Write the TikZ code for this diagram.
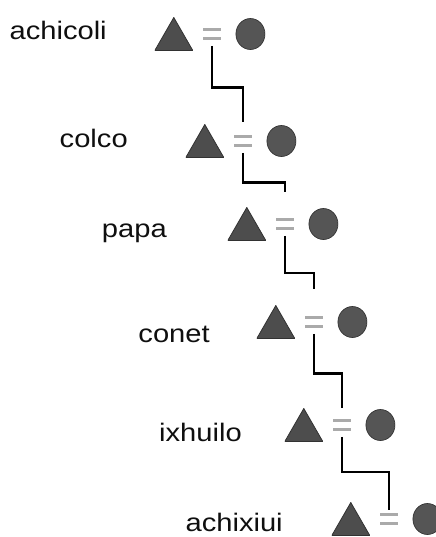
\documentclass[tikz,border=0pt]{standalone}
\usepackage{fontspec}
\usepackage{tikz}
\usetikzlibrary{shapes.geometric,positioning,calc}
\newfontfamily\kinfont[FakeStretch=1.15]{Liberation Sans}
\definecolor{kindark}{RGB}{77,77,77}
\definecolor{kinedge}{RGB}{50,50,50}
\definecolor{kinround}{RGB}{85,85,85}
\definecolor{kineq}{RGB}{170,170,170}
\definecolor{kintext}{RGB}{15,15,15}

\begin{document}
\begin{tikzpicture}[
    x=0.75pt, y=-0.75pt,
    node distance=7pt,
    kinname/.style={anchor=base east, inner sep=0pt, text=kintext, font=\kinfont\fontsize{19}{22}\selectfont},
    male/.style={minimum width=28.5pt, minimum height=24.75pt, inner sep=0pt, path picture={\filldraw[draw=kinedge, fill=kindark, line width=0.6pt] (path picture bounding box.south west) -- (path picture bounding box.south east) -- (path picture bounding box.north) -- cycle;}},
    female/.style={ellipse, draw=kinedge, fill=kinround, line width=0.5pt, minimum width=21.75pt, minimum height=23.25pt, inner sep=0pt},
    marriage/.style={minimum width=14pt, minimum height=9.5pt, inner sep=0pt, path picture={\fill[kineq] (path picture bounding box.north west) rectangle ([yshift=-2.7pt]path picture bounding box.north east); \fill[kineq] (path picture bounding box.south west) rectangle ([yshift=2.7pt]path picture bounding box.south east);}},
    descent/.style={line width=1.7pt, shorten <=4pt}
]
    \useasboundingbox (0,0) rectangle (436,537);

    % couples
    \node[marriage] (achicoliEq) at (212,34) {};
    \node[male, left=of achicoliEq] (achicoliTri) {};
    \node[female, right=10.5pt of achicoliEq] (achicoliCirc) {};
    \node[kinname] (achicoli) at (107,39) {achicoli};

    \node[marriage] (colcoEq) at (243,141) {};
    \node[male, left=of colcoEq] (colcoTri) {};
    \node[female, right=10.5pt of colcoEq] (colcoCirc) {};
    \node[kinname] (colco) at (128,147) {colco};

    \node[marriage] (papaEq) at (285,224) {};
    \node[male, left=of papaEq] (papaTri) {};
    \node[female, right=10.5pt of papaEq] (papaCirc) {};
    \node[kinname] (papa) at (167,237) {papa};

    \node[marriage] (conetEq) at (314,322) {};
    \node[male, left=of conetEq] (conetTri) {};
    \node[female, right=10.5pt of conetEq] (conetCirc) {};
    \node[kinname] (conet) at (210,342) {conet};

    \node[marriage] (ixhuiloEq) at (342,425) {};
    \node[male, left=of ixhuiloEq] (ixhuiloTri) {};
    \node[female, right=10.5pt of ixhuiloEq] (ixhuiloCirc) {};
    \node[kinname] (ixhuilo) at (242,441) {ixhuilo};

    \node[marriage] (achixiuiEq) at (389,519) {};
    \node[male, left=of achixiuiEq] (achixiuiTri) {};
    \node[female, right=10.5pt of achixiuiEq] (achixiuiCirc) {};
    \node[kinname] (achixiui) at (283,531) {achixiui};

    % descent lines
    \draw[descent, shorten >=9pt] (achicoliEq.south) |- ($(achicoliEq)!0.5!(colcoEq)$) -| (colcoEq.north);
    \draw[descent, shorten >=19pt] (colcoEq.south) |- ($(colcoEq)!0.5!(papaEq)$) -| (papaEq.north);
    \draw[descent, shorten >=19.5pt] (papaEq.south) |- ($(papaEq)!0.5!(conetEq)$) -| (conetEq.north);
    \draw[descent, shorten >=8pt] (conetEq.south) |- ($(conetEq)!0.5!(ixhuiloEq)$) -| (ixhuiloEq.north);
    \draw[descent, shorten >=2pt] (ixhuiloEq.south) |- ($(ixhuiloEq)!0.5!(achixiuiEq)$) -| (achixiuiEq.north);
\end{tikzpicture}
\end{document}
